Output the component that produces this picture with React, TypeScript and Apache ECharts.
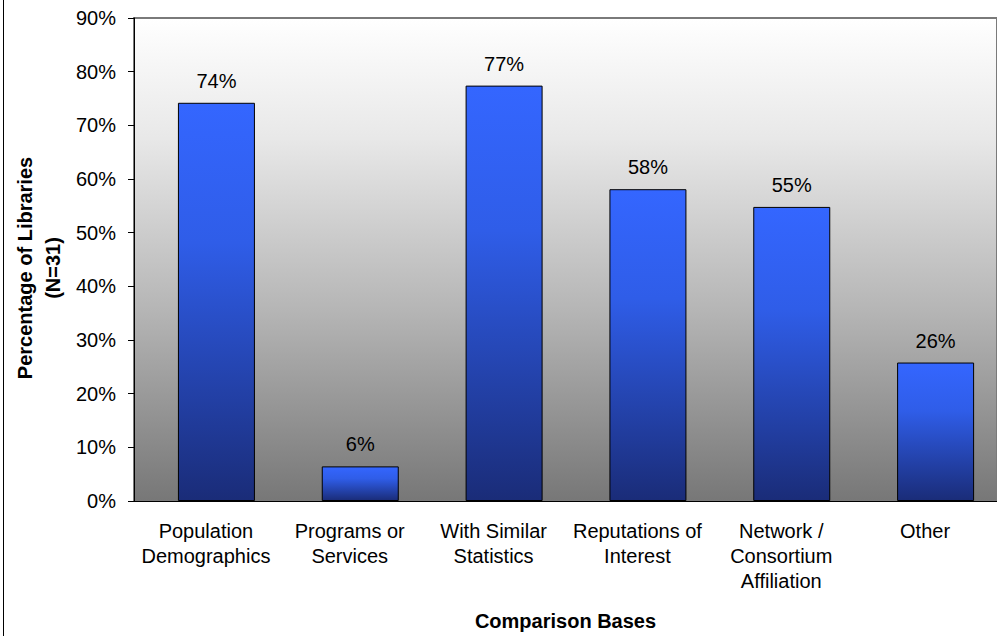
import React, { useEffect, useRef } from "react";
import * as echarts from "echarts";

const categories = [
  "Population\nDemographics",
  "Programs or\nServices",
  "With Similar\nStatistics",
  "Reputations of\nInterest",
  "Network /\nConsortium\nAffiliation",
  "Other",
];
const percentages = [74.2, 6.45, 77.4, 58.1, 54.8, 25.8];
const yTicks = { min: 0, max: 90, interval: 10 };
const yTitle = "Percentage of Libraries\n(N=31)";
const xTitle = "Comparison Bases";

const FONT = "'Liberation Sans', Arial, sans-serif";

export default function App() {
  const ref = useRef<HTMLDivElement>(null);
  useEffect(() => {
    if (!ref.current) return;
    const chart = echarts.init(ref.current, undefined, { renderer: "svg" });
    const barFill = new echarts.graphic.LinearGradient(0, 0, 0, 1, [
      { offset: 0, color: "#3466ff" },
      { offset: 0.35, color: "#2f5de8" },
      { offset: 1, color: "#1a2c78" },
    ]);
    const bgFill = new echarts.graphic.LinearGradient(0, 0, 0, 1, [
      { offset: 0, color: "#ffffff" },
      { offset: 0.25, color: "#e8e8e8" },
      { offset: 0.6, color: "#b6b6b6" },
      { offset: 1, color: "#777777" },
    ]);
    chart.setOption({
      animation: false,
      backgroundColor: "#ffffff",
      textStyle: { fontFamily: FONT },
      grid: {
        left: 134,
        right: -9,
        top: 18,
        bottom: 134,
        show: true,
        backgroundColor: bgFill,
        borderColor: "#7a7a7a",
        borderWidth: 2,
      },
      xAxis: {
        type: "category",
        data: categories,
        axisLine: { lineStyle: { color: "#000", width: 1 } },
        axisTick: { show: false },
        axisLabel: {
          color: "#000",
          fontSize: 20,
          lineHeight: 25,
          margin: 17,
          fontFamily: FONT,
          interval: 0,
        },
        name: xTitle,
        nameLocation: "middle",
        nameGap: 110,
        nameTextStyle: { color: "#000", fontSize: 20, fontWeight: "bold", fontFamily: FONT },
      },
      yAxis: {
        type: "value",
        min: yTicks.min,
        max: yTicks.max,
        interval: yTicks.interval,
        axisLine: { show: true, lineStyle: { color: "#000", width: 1 } },
        axisTick: { show: true, length: 6, lineStyle: { color: "#000" } },
        splitLine: { show: false },
        axisLabel: {
          color: "#000",
          fontSize: 20,
          margin: 18,
          fontFamily: FONT,
          formatter: "{value}%",
        },
      },
      graphic: [
        {
          type: "line",
          shape: { x1: 3.5, y1: 0, x2: 3.5, y2: 636 },
          style: { stroke: "#000", lineWidth: 1 },
          silent: true,
        },
        {
          type: "text",
          x: 39,
          y: 268,
          rotation: Math.PI / 2,
          style: {
            text: yTitle,
            fill: "#000",
            font: `bold 20px ${FONT}`,
            align: "center",
            verticalAlign: "middle",
            lineHeight: 28,
          },
          silent: true,
        },
      ],
      series: [
        {
          type: "bar",
          data: percentages.map(() => "-"),
          barWidth: 77,
          barGap: "-72.7%",
          silent: true,
        },
        {
          type: "bar",
          data: percentages,
          barWidth: 77,
          itemStyle: { color: barFill, borderColor: "#000", borderWidth: 1 },
          label: {
            show: true,
            position: "top",
            distance: 12,
            color: "#000",
            fontSize: 20,
            fontFamily: FONT,
            formatter: (p: any) => Math.round(p.value) + "%",
          },
        },
      ],
    });
    return () => chart.dispose();
  }, []);
  return (
    <div
      ref={ref}
      style={{ position: "absolute", left: 0, top: 0, width: 997, height: 636 }}
    />
  );
}
